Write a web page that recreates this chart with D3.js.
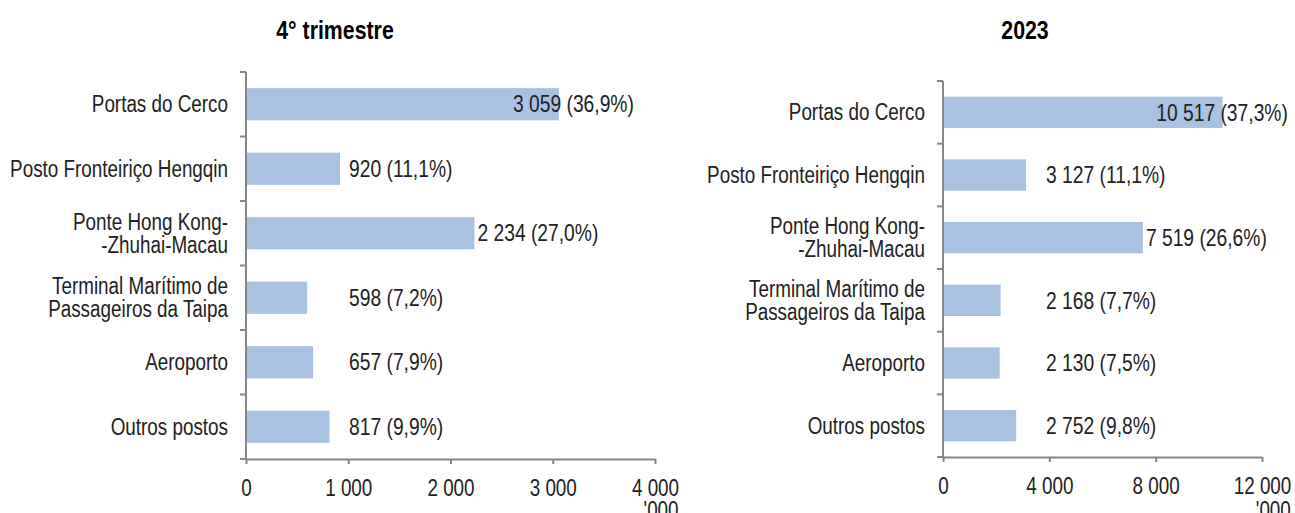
<!DOCTYPE html>
<html>
<head>
<meta charset="utf-8">
<script src="https://cdn.jsdelivr.net/npm/d3@7"></script>
<style>
  body { margin: 0; background: #fff; }
  svg { font-family: "Liberation Sans", Arial, sans-serif; }
</style>
</head>
<body>
<svg id="chart" width="1295" height="513"></svg>
<script>
// categories (line breaks as in the original labels)
const categories = [
  ["Portas do Cerco"],
  ["Posto Fronteiriço Hengqin"],
  ["Ponte Hong Kong-", "-Zhuhai-Macau"],
  ["Terminal Marítimo de", "Passageiros da Taipa"],
  ["Aeroporto"],
  ["Outros postos"]
];

// 4th quarter, thousands
const q4Values = [3059, 920, 2234, 598, 657, 817];
const q4Pct = [36.9, 11.1, 27.0, 7.2, 7.9, 9.9];
const q4Ticks = [0, 1000, 2000, 3000, 4000];

// year 2023, thousands
const yearValues = [10517, 3127, 7519, 2168, 2130, 2752];
const yearPct = [37.3, 11.1, 26.6, 7.7, 7.5, 9.8];
const yearTicks = [0, 4000, 8000, 12000];

const titles = ["4° trimestre", "2023"];
const unitLabel = "'000";

const locale = d3.formatLocale({decimal: ",", thousands: " ", grouping: [3], currency: ["", ""]});
const fmtNum = locale.format(",d");
const fmtPct = locale.format(".1f");

const barColor = "#a9c2e1";
const axisColor = "#868686";
const textColor = "#222";
const narrow = 0.82; // no Arial Narrow here, so squeeze Liberation Sans

const svg = d3.select("#chart");

// put a text at (x, y) with the narrow squeeze
function place(sel, x, y) {
  return sel.attr("x", 0).attr("y", 0)
    .attr("transform", `translate(${x},${y}) scale(${narrow},1)`);
}

function drawPanel(opt) {
  const g = svg.append("g");
  const x = d3.scaleLinear().domain([0, d3.max(opt.ticks)]).range([opt.x0, opt.x1]);
  const y = d3.scaleBand().domain(d3.range(categories.length))
    .range([opt.top, opt.bottom]).paddingInner(0.5).paddingOuter(0.25);
  const step = y.step();

  // title
  g.append("text")
    .attr("text-anchor", "middle")
    .attr("font-size", 26).attr("font-weight", "bold")
    .attr("fill", "#000")
    .text(opt.title)
    .call(place, opt.titleX, 39);

  // bars
  g.selectAll("rect.bar").data(opt.values).join("rect")
    .attr("class", "bar")
    .attr("x", x(0))
    .attr("y", (d, i) => y(i))
    .attr("width", d => x(d) - x(0))
    .attr("height", y.bandwidth())
    .attr("fill", barColor);

  // x axis
  const xAxis = g.append("g")
    .attr("transform", `translate(0,${opt.bottom})`)
    .call(d3.axisBottom(x).tickValues(opt.ticks).tickSize(5).tickSizeOuter(0)
      .tickPadding(16).tickFormat(fmtNum));
  xAxis.attr("font-family", null).attr("font-size", null);
  xAxis.select(".domain").attr("stroke", axisColor).attr("stroke-width", 2);
  xAxis.selectAll(".tick line").attr("stroke", axisColor).attr("stroke-width", 2);
  xAxis.selectAll(".tick text")
    .attr("fill", textColor).attr("font-size", 23)
    .attr("transform", `scale(${narrow},1)`);

  // unit label under the last tick label
  const lastTick = xAxis.selectAll(".tick text").nodes().pop();
  const lastW = lastTick.getComputedTextLength() * narrow;
  g.append("text")
    .attr("text-anchor", "end")
    .attr("font-size", 23).attr("fill", textColor)
    .text(unitLabel)
    .call(place, x(d3.max(opt.ticks)) + lastW / 2, 518);

  // y axis: line plus ticks at the band boundaries
  g.append("line")
    .attr("x1", x(0)).attr("x2", x(0))
    .attr("y1", opt.top).attr("y2", opt.bottom)
    .attr("stroke", axisColor).attr("stroke-width", 2);
  g.selectAll("line.ytick").data(d3.range(categories.length + 1)).join("line")
    .attr("class", "ytick")
    .attr("x1", x(0) - 6).attr("x2", x(0))
    .attr("y1", i => opt.top + i * step).attr("y2", i => opt.top + i * step)
    .attr("stroke", axisColor).attr("stroke-width", 2);

  // category labels
  g.selectAll("text.cat").data(categories).join("text")
    .attr("class", "cat")
    .attr("text-anchor", "end")
    .attr("font-size", 23).attr("fill", textColor)
    .each(function(lines, i) {
      const t = d3.select(this);
      place(t, x(0) - 18, y(i) + y.bandwidth() / 2);
      const lh = 23;
      lines.forEach((s, k) => {
        t.append("tspan")
          .attr("x", 0)
          .attr("dy", k === 0 ? (0.35 - (lines.length - 1) / 2 * lh / 23) + "em" : lh + "px")
          .text(s);
      });
    });

  // value labels
  g.selectAll("text.val").data(opt.values).join("text")
    .attr("class", "val")
    .attr("dy", "0.35em")
    .attr("font-size", 23.5).attr("fill", textColor)
    .text((d, i) => `${fmtNum(d)} (${fmtPct(opt.pct[i])}%)`)
    .each(function(d, i) {
      const w = this.getComputedTextLength() * narrow;
      const pos = Math.min(Math.max(x(d) + 3, x(0) + 103), opt.labelRight - w);
      place(d3.select(this), pos, y(i) + y.bandwidth() / 2);
    });
}

drawPanel({
  title: titles[0], titleX: 335,
  values: q4Values, pct: q4Pct, ticks: q4Ticks,
  x0: 246, x1: 655, top: 72, bottom: 459, labelRight: 634
});

drawPanel({
  title: titles[1], titleX: 1025,
  values: yearValues, pct: yearPct, ticks: yearTicks,
  x0: 943, x1: 1262, top: 81, bottom: 457, labelRight: 1288
});
</script>
</body>
</html>
